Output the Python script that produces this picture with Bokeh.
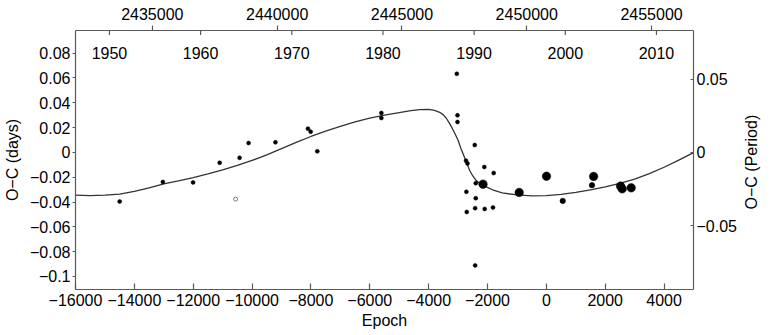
import math
from bokeh.plotting import figure
from bokeh.models import (Range1d, LinearAxis, FixedTicker, CustomJSTickFormatter, Label)
from bokeh.embed import file_html
from bokeh.resources import INLINE

# ---- ephemeris used for the secondary axes ----
PERIOD = 1.179          # days
T0 = 2450786.0          # HJD of epoch 0

# ---- observations (epoch, O-C in days) ----
small_epoch = [-14500, -13031, -12005, -11101, -10424, -10119, -9205, -8101, -8009, -7783,
               -5606, -5606, -3043, -3020, -3020, -2433, -2730, -2680, -2108, -1790,
               -2399, -2717, -2399, -2706, -2420, -2096, -1814, -2420]
small_oc = [-0.0396, -0.0238, -0.0242, -0.0084, -0.0044, 0.0075, 0.0081, 0.0191, 0.0167, 0.0008,
            0.0318, 0.0277, 0.0633, 0.0299, 0.0245, 0.0059, -0.0067, -0.0089, -0.0118, -0.0167,
            -0.0248, -0.0318, -0.0369, -0.0480, -0.0450, -0.0456, -0.0444, -0.0911]

medium_epoch = [557, 1550]
medium_oc = [-0.0391, -0.0264]

large_epoch = [-2152, -923, 5, 1606, 2520, 2577, 2883]
large_oc = [-0.0256, -0.0323, -0.0192, -0.0194, -0.0272, -0.0294, -0.0286]

open_epoch = [-10559]
open_oc = [-0.0377]

# ---- model curve ----
curve_epoch = [-16000, -15500, -15000, -14500, -14000, -13500, -13000, -12500, -12000, -11500,
               -11000, -10500, -10000, -9500, -9000, -8500, -8000, -7500, -7000, -6500,
               -6000, -5500, -5000, -4600, -4300, -4000, -3800, -3600, -3500, -3400,
               -3300, -3200, -3100, -3000, -2900, -2800, -2700, -2600, -2500, -2400,
               -2300, -2200, -2100, -2000, -1800, -1500, -1000, -500, 0, 500,
               1000, 1500, 2000, 2500, 3000, 3500, 4000, 4500, 5000]
curve_oc = [-0.0345, -0.0348, -0.0345, -0.0336, -0.0315, -0.0286, -0.0254, -0.0229, -0.0203, -0.0174,
            -0.0142, -0.0105, -0.0065, -0.0020, 0.0030, 0.0080, 0.0128, 0.0172, 0.0210, 0.0246,
            0.0276, 0.0300, 0.0320, 0.0336, 0.0345, 0.0346, 0.0338, 0.0320, 0.0302, 0.0275,
            0.0238, 0.0195, 0.0148, 0.0098, 0.0030, -0.0030, -0.0090, -0.0148, -0.0190, -0.0222,
            -0.0243, -0.0257, -0.0270, -0.0282, -0.0305, -0.0327, -0.0343, -0.0350, -0.0348, -0.0339,
            -0.0323, -0.0302, -0.0278, -0.0250, -0.0215, -0.0172, -0.0120, -0.0062, -0.0002]

# ---- ticks ----
epoch_ticks = [-16000, -14000, -12000, -10000, -8000, -6000, -4000, -2000, 0, 2000, 4000]
oc_ticks = [-0.1, -0.08, -0.06, -0.04, -0.02, 0, 0.02, 0.04, 0.06, 0.08]
period_ticks = [-0.05, 0, 0.05]
jd_ticks = [2435000, 2440000, 2445000, 2450000, 2455000]
year_ticks = [1950, 1960, 1970, 1980, 1990, 2000, 2010]

X0, X1 = -16000, 5000
Y0, Y1 = -0.1105, 0.0982

FONT = "Liberation Sans"
FS = "16px"
AXC = "#5a5a5a"


def year_to_epoch(y):
    jd = 2451544.5 + (y - 2000) * 365.25
    return (jd - T0) / PERIOD


num_fmt = CustomJSTickFormatter(code="""
    const v = Math.round(tick * 1e6) / 1e6;
    return String(v).replace('-', '\u2212');
""")
int_fmt = CustomJSTickFormatter(code="""
    return String(Math.round(tick)).replace('-', '\u2212');
""")

p = figure(width=771, height=335, x_range=Range1d(X0, X1), y_range=Range1d(Y0, Y1),
           output_backend="svg", toolbar_location=None,
           min_border_left=75, min_border_right=76, min_border_top=30, min_border_bottom=46)
p.outline_line_color = None
p.grid.visible = False
p.background_fill_color = "white"
p.border_fill_color = "white"

p.extra_x_ranges = {"jd": Range1d(T0 + PERIOD * X0, T0 + PERIOD * X1)}
p.extra_y_ranges = {"per": Range1d(Y0 / PERIOD, Y1 / PERIOD)}


def style(ax, tin, tout, std, lstd):
    ax.axis_line_color = AXC
    ax.axis_line_width = 1.2
    ax.major_tick_line_color = AXC
    ax.major_tick_line_width = 1.2
    ax.major_tick_in = tin
    ax.major_tick_out = tout
    ax.minor_tick_line_color = None
    ax.major_label_text_font = FONT
    ax.major_label_text_font_size = FS
    ax.major_label_text_color = "black"
    ax.major_label_standoff = std
    ax.axis_label_text_font = FONT
    ax.axis_label_text_font_size = FS
    ax.axis_label_text_font_style = "normal"
    ax.axis_label_text_color = "black"
    ax.axis_label_standoff = lstd


xb = p.xaxis[0]
xb.ticker = FixedTicker(ticks=epoch_ticks)
xb.formatter = int_fmt
xb.axis_label = "Epoch"
style(xb, 6, 0, 4, 3)

yl = p.yaxis[0]
yl.ticker = FixedTicker(ticks=oc_ticks)
yl.formatter = num_fmt
yl.axis_label = "O\u2212C (days)"
style(yl, 0, 3, 2, 6)

xt = LinearAxis(x_range_name="jd", ticker=FixedTicker(ticks=jd_ticks), formatter=int_fmt)
style(xt, 0, 5, 6, 0)
p.add_layout(xt, "above")

# right axis; its title reads bottom-to-top, started from the frame bottom and
# padded with no-break spaces so that the visible words sit at mid-height
yr = LinearAxis(y_range_name="per", ticker=FixedTicker(ticks=period_ticks), formatter=num_fmt,
                axis_label="\u00a0" * 18 + "O\u2212C (Period)")
style(yr, 3, 0, 3, 12)
try:
    yr.axis_label_orientation = math.pi / 2
    yr.axis_label_align = "start"
except Exception:
    pass
p.add_layout(yr, "right")

# inner year ticks and labels
year_x = [year_to_epoch(y) for y in year_ticks]
tick_len = (Y1 - Y0) / 259.0 * 4.5
p.segment(x0=year_x, y0=[Y1] * len(year_x), x1=year_x, y1=[Y1 - tick_len] * len(year_x),
          line_color=AXC, line_width=1.2)
for yv, xv in zip(year_ticks, year_x):
    p.add_layout(Label(x=xv, y=Y1, text=str(yv), text_align="center", text_baseline="top",
                       y_offset=-16, text_font=FONT, text_font_size=FS, text_color="black"))

# model curve
p.line(curve_epoch, curve_oc, line_color="#333333", line_width=1.3)

# observations
p.scatter(small_epoch, small_oc, size=4, fill_color="black", line_color="black", line_width=0.5)
p.scatter(medium_epoch, medium_oc, size=5.5, fill_color="black", line_color="black", line_width=0.5)
p.scatter(large_epoch, large_oc, size=8.5, fill_color="black", line_color="black", line_width=0.5)
p.scatter(open_epoch, open_oc, size=4, fill_color="white", line_color="#777777", line_width=1)

open("out.html", "w").write(file_html(p, INLINE))
